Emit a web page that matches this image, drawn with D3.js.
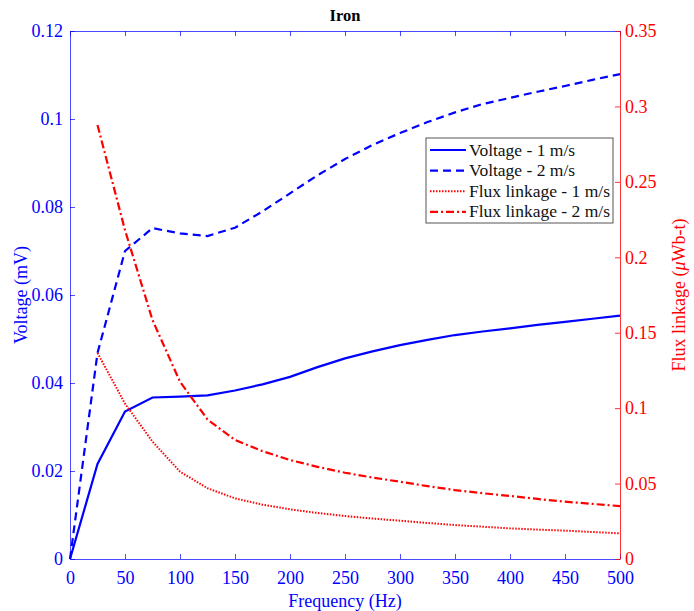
<!DOCTYPE html>
<html>
<head>
<meta charset="utf-8">
<script src="https://cdn.jsdelivr.net/npm/d3@7"></script>
<style>
  body { margin: 0; background: #fff; }
  svg, svg text { font-family: "Liberation Serif", "Times New Roman", serif; }
</style>
</head>
<body>
<div id="chart"></div>
<script>
// frequencies (Hz) and values
const freqV = [0, 25, 50, 75, 100, 125, 150, 175, 200, 225, 250, 275, 300, 325, 350, 375, 400, 425, 450, 475, 500];
const voltage1 = [0, 0.0216, 0.0335, 0.0367, 0.0369, 0.0372, 0.0383, 0.0397, 0.0414, 0.0436, 0.0456, 0.0472, 0.0486, 0.0498, 0.0509, 0.0517, 0.0524, 0.0532, 0.0539, 0.0546, 0.0553];
const voltage2 = [0, 0.0468, 0.0700, 0.0752, 0.0740, 0.0734, 0.0753, 0.0790, 0.0831, 0.0872, 0.0909, 0.0941, 0.0968, 0.0993, 0.1015, 0.1034, 0.1048, 0.1062, 0.1075, 0.1089, 0.1102];

const freqF = [25, 50, 75, 100, 125, 150, 175, 200, 225, 250, 275, 300, 325, 350, 375, 400, 425, 450, 475, 500];
const flux1 = [0.1366, 0.1030, 0.0778, 0.0579, 0.0469, 0.0402, 0.0360, 0.0329, 0.0305, 0.0285, 0.0268, 0.0254, 0.0239, 0.0225, 0.0214, 0.0203, 0.0195, 0.0188, 0.0179, 0.0170];
const flux2 = [0.2877, 0.2180, 0.1584, 0.1175, 0.0925, 0.0789, 0.0715, 0.0656, 0.0611, 0.0572, 0.0540, 0.0512, 0.0483, 0.0457, 0.0436, 0.0418, 0.0398, 0.0380, 0.0365, 0.0351];

const xTicks = [0, 50, 100, 150, 200, 250, 300, 350, 400, 450, 500];
const yLeftTicks = [0, 0.02, 0.04, 0.06, 0.08, 0.1, 0.12];
const yRightTicks = [0, 0.05, 0.1, 0.15, 0.2, 0.25, 0.3, 0.35];

const width = 694;
const height = 611;
const margin = {top: 31, right: 74, bottom: 52, left: 70};
const blue = '#0000ff';
const red = '#ff0000';

const svg = d3.select('#chart').append('svg')
  .attr('width', width)
  .attr('height', height);

const scaleX = d3.scaleLinear()
  .domain([0, 500])
  .range([margin.left, width - margin.right]);

const scaleYL = d3.scaleLinear()
  .domain([0, 0.12])
  .range([height - margin.bottom, margin.top]);

const scaleYR = d3.scaleLinear()
  .domain([0, 0.35])
  .range([height - margin.bottom, margin.top]);

const plotW = width - margin.left - margin.right;
const plotH = height - margin.top - margin.bottom;
const tickLen = 5;

// axes, MATLAB style ticks pointing inwards
const fmt = d => d3.format('~g')(d);

const axisBottom = svg.append('g')
  .attr('transform', `translate(0, ${height - margin.bottom})`)
  .call(d3.axisBottom(scaleX).tickValues(xTicks).tickSizeInner(-tickLen).tickSizeOuter(0).tickPadding(12).tickFormat(fmt));

const axisTop = svg.append('g')
  .attr('transform', `translate(0, ${margin.top})`)
  .call(d3.axisTop(scaleX).tickValues(xTicks).tickSizeInner(-tickLen).tickSizeOuter(0).tickFormat(''));

const axisLeft = svg.append('g')
  .attr('transform', `translate(${margin.left}, 0)`)
  .call(d3.axisLeft(scaleYL).tickValues(yLeftTicks).tickSizeInner(-tickLen).tickSizeOuter(0).tickPadding(7).tickFormat(fmt));

const axisRight = svg.append('g')
  .attr('transform', `translate(${width - margin.right}, 0)`)
  .call(d3.axisRight(scaleYR).tickValues(yRightTicks).tickSizeInner(-tickLen).tickSizeOuter(0).tickPadding(5).tickFormat(fmt));

[axisBottom, axisTop, axisLeft].forEach(g => {
  g.attr('font-family', null).attr('font-size', null);
  g.selectAll('path, line').attr('stroke', blue).attr('stroke-width', 1).attr('stroke-opacity', 0.7);
  g.selectAll('text').attr('fill', blue).style('font-size', '18px');
});
axisRight.attr('font-family', null).attr('font-size', null);
axisRight.selectAll('path, line').attr('stroke', red).attr('stroke-width', 1).attr('stroke-opacity', 0.8);
axisRight.selectAll('text').attr('fill', red).style('font-size', '18px');

// lines
const lineV = d3.line().x(d => scaleX(d[0])).y(d => scaleYL(d[1]));
const lineF = d3.line().x(d => scaleX(d[0])).y(d => scaleYR(d[1]));

const series = [
  {name: 'Voltage - 1 m/s', data: d3.zip(freqV, voltage1), line: lineV, color: blue, dash: null, w: 2.2},
  {name: 'Voltage - 2 m/s', data: d3.zip(freqV, voltage2), line: lineV, color: blue, dash: '8,5', w: 2.2},
  {name: 'Flux linkage - 1 m/s', data: d3.zip(freqF, flux1), line: lineF, color: red, dash: '1.5,1.5', w: 2},
  {name: 'Flux linkage - 2 m/s', data: d3.zip(freqF, flux2), line: lineF, color: red, dash: '8,3,2,3', w: 2.2},
];

const group = svg.append('g');
series.forEach(s => {
  group.append('path')
    .attr('fill', 'none')
    .attr('stroke', s.color)
    .attr('stroke-width', s.w)
    .attr('stroke-dasharray', s.dash)
    .attr('d', s.line(s.data));
});

// title and labels
svg.append('text')
  .attr('x', margin.left + plotW / 2)
  .attr('y', 21)
  .attr('text-anchor', 'middle')
  .style('font-size', '16.5px')
  .style('font-weight', 'bold')
  .text('Iron');

svg.append('text')
  .attr('x', margin.left + plotW / 2)
  .attr('y', 607)
  .attr('text-anchor', 'middle')
  .attr('fill', blue)
  .style('font-size', '18px')
  .text('Frequency (Hz)');

svg.append('text')
  .attr('transform', `translate(27, ${margin.top + plotH / 2}) rotate(-90)`)
  .attr('text-anchor', 'middle')
  .attr('fill', blue)
  .style('font-size', '18px')
  .text('Voltage (mV)');

const rLabel = svg.append('text')
  .attr('transform', `translate(685, ${margin.top + plotH / 2}) rotate(-90)`)
  .attr('text-anchor', 'middle')
  .attr('fill', red)
  .style('font-size', '18px');
rLabel.append('tspan').text('Flux linkage (');
rLabel.append('tspan').style('font-style', 'italic').text('\u03bc');
rLabel.append('tspan').text('Wb-t)');

// legend
const legend = svg.append('g').attr('transform', 'translate(426, 138)');
legend.append('rect')
  .attr('width', 187)
  .attr('height', 85)
  .attr('fill', '#fff')
  .attr('stroke', '#555')
  .attr('stroke-width', 1);

series.forEach((s, i) => {
  const y = 12 + i * 20.6;
  legend.append('line')
    .attr('x1', 4).attr('x2', 40)
    .attr('y1', y).attr('y2', y)
    .attr('stroke', s.color)
    .attr('stroke-width', s.w)
    .attr('stroke-dasharray', s.dash);
  legend.append('text')
    .attr('x', 43)
    .attr('y', y + 5.5)
    .style('font-size', '17.5px')
    .attr('fill', '#111')
    .text(s.name);
});
</script>
</body>
</html>
